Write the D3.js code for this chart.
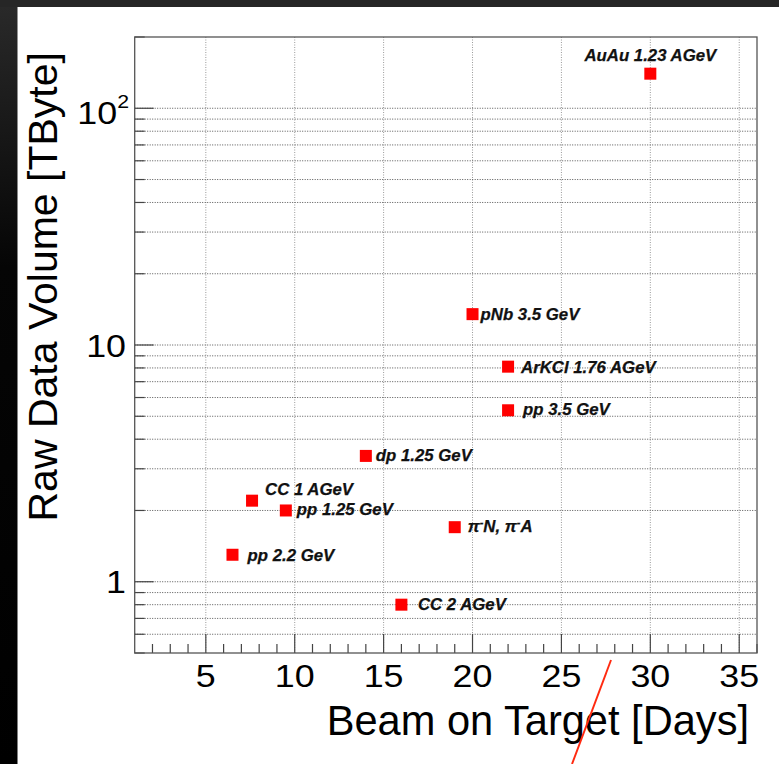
<!DOCTYPE html>
<html>
<head>
<meta charset="utf-8">
<script src="https://cdn.jsdelivr.net/npm/d3@7"></script>
<style>
  html, body { margin: 0; padding: 0; background: #fff; }
  svg { display: block; }
</style>
</head>
<body>
<script>
// Raw data volume recorded per beam time, by collision system
const systems  = ["AuAu 1.23 AGeV", "pNb 3.5 GeV", "ArKCl 1.76 AGeV", "pp 3.5 GeV", "dp 1.25 GeV",
                  "CC 1 AGeV", "pp 1.25 GeV", "π^{-}N, π^{-}A", "pp 2.2 GeV", "CC 2 AGeV"];
const beamDays = [30, 20, 22, 22, 14, 7.6, 9.5, 19, 6.5, 16];
const rawTByte = [140, 13.5, 8.1, 5.3, 3.4, 2.2, 2.0, 1.7, 1.3, 0.8];

// label placement relative to each marker: [dx, dy, anchor]
const labelPlace = [[0, -12.5, "middle"], [8, 6, "start"], [13, 6, "start"], [15, 5, "start"],
                    [10, 5, "start"], [13, -6, "start"], [11, 5, "start"], [13, 5, "start"],
                    [15, 6, "start"], [16.5, 5, "start"]];

const xTicksMajor = [5, 10, 15, 20, 25, 30, 35];
const yTickValues = [1, 10, 100];
const yTickLabels = ["1", "10", "10^{2}"];

const W = 779, H = 764;
const M = { left: 134.7, right: 757, top: 37, bottom: 653 };

const svg = d3.select("body").append("svg").attr("width", W).attr("height", H);

// dark frame bands
const defs = svg.append("defs");
const grad = defs.append("linearGradient").attr("id", "sideBand")
  .attr("x1", 0).attr("y1", 0).attr("x2", 0).attr("y2", 1);
grad.append("stop").attr("offset", "0%").attr("stop-color", "#2a2a2a");
grad.append("stop").attr("offset", "35%").attr("stop-color", "#050505");
grad.append("stop").attr("offset", "100%").attr("stop-color", "#000");
svg.append("rect").attr("x", 0).attr("y", 0).attr("width", 17.5).attr("height", H).attr("fill", "url(#sideBand)");
svg.append("rect").attr("x", 0).attr("y", 0).attr("width", W).attr("height", 7).attr("fill", "#262626");

const x = d3.scaleLinear().domain([1, 36]).range([M.left, M.right]);
const y = d3.scaleLog().domain([0.5, 200]).range([M.bottom, M.top]);

const FONT = "'Liberation Sans', Arial, Helvetica, sans-serif";
const TICK_STRETCH = 1.12; // tick numerals are drawn slightly wide

// log ticks: 0.5..0.9, 1..9, 10..90, 100, 200
const yAll = [];
[0.1, 1, 10, 100].forEach(dec => { for (let k = 1; k < 10; k++) { const v = k * dec; if (v >= 0.5 - 1e-9 && v <= 200 + 1e-9) yAll.push(+v.toPrecision(3)); } });
const isMajorY = v => Math.abs(Math.log10(v) - Math.round(Math.log10(v))) < 1e-9;

const xAll = d3.range(2, 37);

// grid
const grid = svg.append("g");
grid.selectAll("line.vg").data(xTicksMajor).join("line")
  .attr("x1", d => x(d)).attr("x2", d => x(d))
  .attr("y1", M.top).attr("y2", M.bottom)
  .attr("stroke", "#9a9a9a").attr("stroke-width", 1).attr("stroke-dasharray", "1,1.5");
grid.selectAll("line.hg").data(yAll.filter(v => v > 0.5 && v < 200)).join("line")
  .attr("x1", M.left).attr("x2", M.right)
  .attr("y1", d => y(d)).attr("y2", d => y(d))
  .attr("stroke", "#555").attr("stroke-width", 1).attr("stroke-dasharray", "1,1.5");

// ticks (pointing inward)
const ticks = svg.append("g").attr("stroke", "#444").attr("stroke-width", 1.2);
ticks.selectAll("line.xt").data(xAll).join("line")
  .attr("x1", d => x(d)).attr("x2", d => x(d))
  .attr("y1", M.bottom).attr("y2", d => M.bottom - (d % 5 === 0 ? 19 : 9));
ticks.selectAll("line.yt").data(yAll).join("line")
  .attr("x1", M.left).attr("x2", d => M.left + (isMajorY(d) ? 19 : 10))
  .attr("y1", d => y(d)).attr("y2", d => y(d));

// frame
svg.append("rect").attr("x", M.left).attr("y", M.top)
  .attr("width", M.right - M.left).attr("height", M.bottom - M.top)
  .attr("fill", "none").attr("stroke", "#555").attr("stroke-width", 1.3);

// renders "a^{b}c" style labels into a text element
function latex(textSel, str, supSize, supShift) {
  const parts = str.split(/(\^\{[^}]*\})/).filter(s => s.length);
  let raised = false;
  parts.forEach(p => {
    if (p.startsWith("^{")) {
      textSel.append("tspan").text(p.slice(2, -1)).attr("font-size", supSize).attr("dy", -supShift);
      raised = true;
    } else {
      const t = textSel.append("tspan").text(p);
      if (raised) { t.attr("dy", supShift); raised = false; }
    }
  });
}

// x tick labels
svg.append("g").selectAll("text").data(xTicksMajor).join("text")
  .attr("transform", d => `translate(${x(d)},686.5) scale(${TICK_STRETCH},1)`)
  .attr("text-anchor", "middle").attr("font-family", FONT).attr("font-size", 32)
  .attr("fill", "#000").text(d => d);

// y tick labels
yTickValues.forEach((v, i) => {
  const lab = yTickLabels[i];
  const sup = lab.includes("^");
  const t = svg.append("text")
    .attr("transform", `translate(${sup ? 129 : 126},${y(v) + (sup ? 15.5 : 11.5)}) scale(${TICK_STRETCH},1)`)
    .attr("text-anchor", "end").attr("font-family", FONT).attr("font-size", 32).attr("fill", "#000");
  latex(t, lab, 19, 16);
});

// axis titles
svg.append("text").attr("x", 749).attr("y", 735)
  .attr("text-anchor", "end").attr("font-family", FONT).attr("font-size", 41.6)
  .attr("fill", "#000").text("Beam on Target [Days]");
svg.append("text")
  .attr("transform", "translate(56.5,521.5) rotate(-90)")
  .attr("text-anchor", "start").attr("font-family", FONT).attr("font-size", 41)
  .attr("fill", "#000").text("Raw Data Volume [TByte]");

// markers
const S = 12;
svg.append("g").selectAll("rect").data(systems).join("rect")
  .attr("x", (d, i) => x(beamDays[i]) - S / 2)
  .attr("y", (d, i) => y(rawTByte[i]) - S / 2)
  .attr("width", S).attr("height", S)
  .attr("fill", "#ff0000");

// point labels
systems.forEach((name, i) => {
  const [dx, dy, anchor] = labelPlace[i];
  const t = svg.append("text")
    .attr("x", x(beamDays[i]) + dx).attr("y", y(rawTByte[i]) + dy)
    .attr("text-anchor", anchor)
    .attr("font-family", FONT).attr("font-size", 16.8)
    .attr("font-weight", "bold").attr("font-style", "italic").attr("fill", "#111")
    .attr("stroke", "#111").attr("stroke-width", 0.25);
  latex(t, name, 11, 6);
});

// red pen stroke across the lower right
svg.append("line").attr("x1", 611).attr("y1", 660).attr("x2", 572).attr("y2", 764)
  .attr("stroke", "#ff2a10").attr("stroke-width", 2);
</script>
</body>
</html>
